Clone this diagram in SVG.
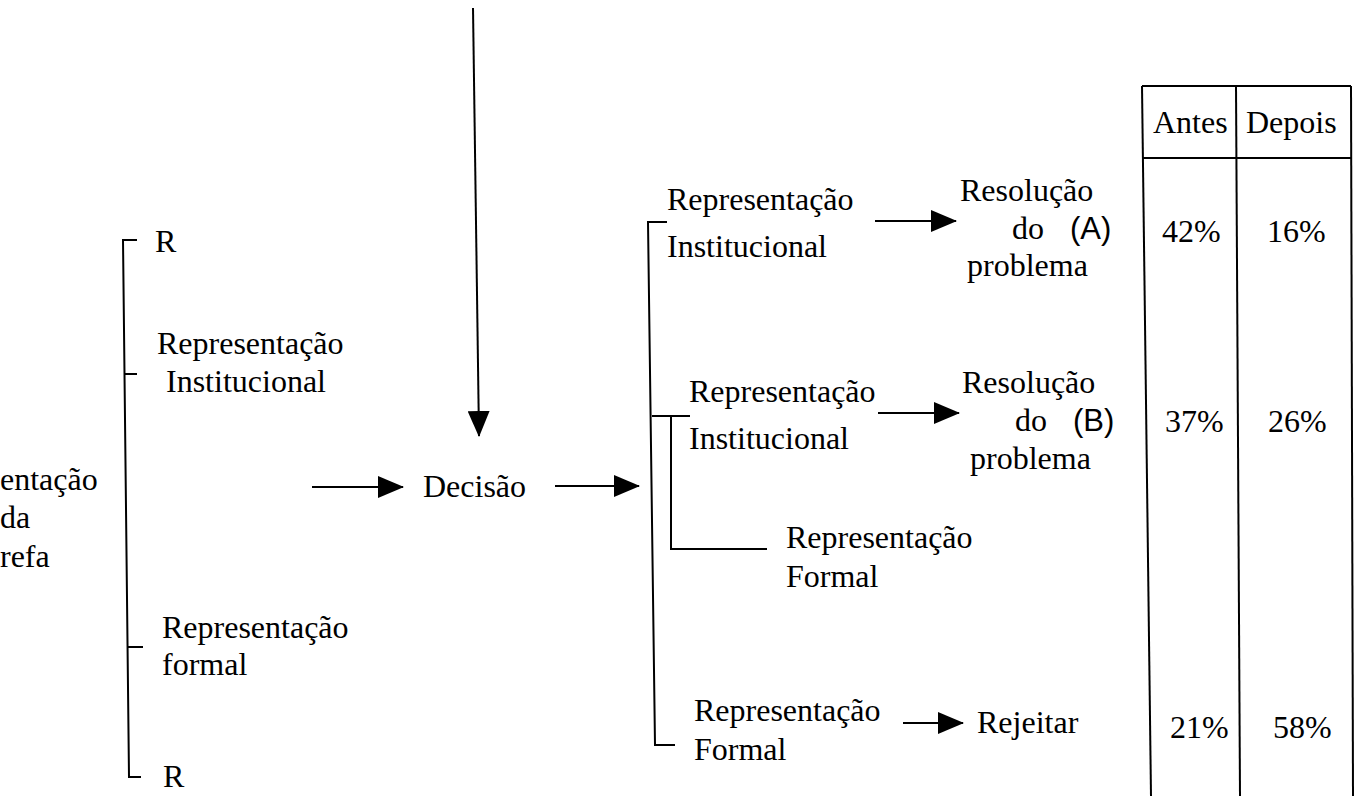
<svg xmlns="http://www.w3.org/2000/svg" width="1361" height="796" viewBox="0 0 1361 796">
  <style>
    .t { font-family: "Liberation Serif", "Times New Roman", serif; font-size: 32px; fill: #000; }
    .s { font-family: "Liberation Sans", Arial, sans-serif; font-size: 31px; fill: #000; }
    .ln { stroke: #000; stroke-width: 2; fill: none; }
    .ar { stroke: #000; stroke-width: 2; fill: none; marker-end: url(#head); }
  </style>
  <defs>
    <marker id="head" markerUnits="userSpaceOnUse" markerWidth="26" markerHeight="22" viewBox="0 0 26 22" refX="25" refY="11" orient="auto">
      <path d="M0,0 L26,11 L0,22 z" fill="#000"/>
    </marker>
  </defs>
  <rect width="1361" height="796" fill="#fff"/>

  <g id="connectors">
    <path class="ln" d="M137,240 H123 L129,777 H141"/>
    <path class="ln" d="M125,374 H137"/>
    <path class="ln" d="M127,647 H143"/>
    <line class="ar" x1="473" y1="8" x2="479" y2="436"/>
    <line class="ar" x1="312" y1="487" x2="403" y2="487"/>
    <line class="ar" x1="555" y1="486" x2="639" y2="486"/>
    <path class="ln" d="M667,222 H648 L655,745 H675"/>
    <path class="ln" d="M652,416 H690"/>
    <path class="ln" d="M671,416 V549 H767"/>
    <line class="ar" x1="875" y1="221" x2="956" y2="221"/>
    <line class="ar" x1="878" y1="413" x2="959" y2="413"/>
    <line class="ar" x1="903" y1="723" x2="963" y2="723"/>
  </g>

  <g id="task">
    <text class="t" x="0" y="490">entação</text>
    <text class="t" x="0" y="528">da</text>
    <text class="t" x="0" y="567">refa</text>
  </g>
  <g id="r-top"><text class="t" x="155" y="252">R</text></g>
  <g id="rep-inst-left">
    <text class="t" x="157" y="354">Representação</text>
    <text class="t" x="166" y="392">Institucional</text>
  </g>
  <g id="rep-formal-left">
    <text class="t" x="162" y="638">Representação</text>
    <text class="t" x="162" y="675">formal</text>
  </g>
  <g id="r-bottom"><text class="t" x="163" y="787">R</text></g>
  <g id="decisao"><text class="t" x="423" y="497">Decisão</text></g>

  <g id="rep-inst-1">
    <text class="t" x="667" y="210">Representação</text>
    <text class="t" x="667" y="257">Institucional</text>
  </g>
  <g id="resol-a">
    <text class="t" x="960" y="201">Resolução</text>
    <text class="t" x="1012" y="239">do</text>
    <text class="s" x="1070" y="239">(A)</text>
    <text class="t" x="967" y="276">problema</text>
  </g>
  <g id="rep-inst-2">
    <text class="t" x="689" y="402">Representação</text>
    <text class="t" x="689" y="449">Institucional</text>
  </g>
  <g id="resol-b">
    <text class="t" x="962" y="393">Resolução</text>
    <text class="t" x="1015" y="431">do</text>
    <text class="s" x="1073" y="431">(B)</text>
    <text class="t" x="970" y="469">problema</text>
  </g>
  <g id="rep-formal-2">
    <text class="t" x="786" y="548">Representação</text>
    <text class="t" x="786" y="587">Formal</text>
  </g>
  <g id="rep-formal-3">
    <text class="t" x="694" y="721">Representação</text>
    <text class="t" x="694" y="760">Formal</text>
  </g>
  <g id="rejeitar"><text class="t" x="977" y="733">Rejeitar</text></g>

  <g id="table">
    <path class="ln" d="M1142,86 H1351"/>
    <path class="ln" d="M1142,86 L1151,796"/>
    <path class="ln" d="M1351,86 L1353,796"/>
    <path class="ln" d="M1236,86 L1240,796"/>
    <path class="ln" d="M1142,158 H1352"/>
    <text class="t" x="1153" y="133">Antes</text>
    <text class="t" x="1246" y="133">Depois</text>
    <text class="t" x="1162" y="242">42%</text>
    <text class="t" x="1267" y="242">16%</text>
    <text class="t" x="1165" y="432">37%</text>
    <text class="t" x="1268" y="432">26%</text>
    <text class="t" x="1170" y="738">21%</text>
    <text class="t" x="1273" y="738">58%</text>
  </g>
</svg>
